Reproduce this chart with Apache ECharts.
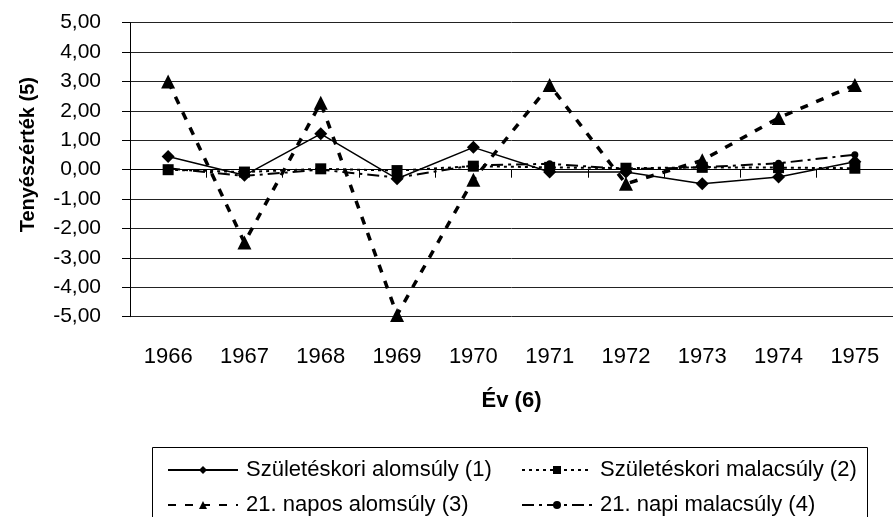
<!DOCTYPE html>
<html>
<head>
<meta charset="utf-8">
<script src="https://cdn.jsdelivr.net/npm/echarts@6/dist/echarts.min.js"></script>
<style>
html,body{margin:0;padding:0;background:#fff;}
#chart{width:893px;height:517px;}
</style>
</head>
<body>
<div id="chart"></div>
<script>
// evek es tenyeszertekek
var years = ['1966', '1967', '1968', '1969', '1970', '1971', '1972', '1973', '1974', '1975'];
var szulAlom = [0.45, -0.19, 1.22, -0.31, 0.76, -0.08, -0.08, -0.48, -0.25, 0.27];
var szulMalac = [0.0, -0.08, 0.03, -0.03, 0.12, 0.08, 0.05, 0.08, 0.07, 0.05];
var napos21Alom = [3.0, -2.48, 2.28, -4.94, -0.34, 2.88, -0.48, 0.32, 1.76, 2.88];
var napi21Malac = [0.05, -0.21, 0.0, -0.27, 0.15, 0.2, 0.02, 0.08, 0.22, 0.51];

var names = ['Születéskori alomsúly (1)', 'Születéskori malacsúly (2)', '21. napos alomsúly (3)', '21. napi malacsúly (4)'];

var font = 'Liberation Sans, Arial, sans-serif';

var chart = echarts.init(document.getElementById('chart'));

var legendText = {fontFamily: font, fontSize: 22, color: '#000', padding: [0, 0, 0, 3]};

var option = {
    backgroundColor: '#fff',
    animation: false,
    textStyle: {fontFamily: font, color: '#000'},
    grid: {left: 130, top: 22.7, right: -10.3, bottom: 200.3, containLabel: false},
    legend: [
        {
            orient: 'vertical',
            left: 167,
            top: 459,
            height: 100,
            padding: 0,
            itemWidth: 70,
            itemHeight: 10,
            itemGap: 13,
            data: [names[0], names[2]],
            textStyle: legendText
        },
        {
            orient: 'vertical',
            left: 521,
            top: 459,
            height: 100,
            padding: 0,
            itemWidth: 70,
            itemHeight: 10,
            itemGap: 13,
            data: [names[1], names[3]],
            textStyle: legendText
        }
    ],
    graphic: [
        {
            type: 'rect',
            shape: {x: 152.5, y: 447.5, width: 715, height: 90},
            style: {fill: 'none', stroke: '#000', lineWidth: 1},
            silent: true
        }
    ],
    xAxis: {
        type: 'category',
        data: years,
        boundaryGap: true,
        name: 'Év (6)',
        nameLocation: 'middle',
        nameGap: 73,
        nameTextStyle: {fontFamily: font, fontSize: 22, fontWeight: 'bold', color: '#000'},
        axisLine: {lineStyle: {color: '#000', width: 1}},
        axisTick: {show: true, length: 8, interval: 0, lineStyle: {color: '#000'}},
        axisLabel: {fontFamily: font, fontSize: 22, color: '#000', margin: 29, interval: 0},
        splitLine: {show: false}
    },
    yAxis: {
        type: 'value',
        min: -5,
        max: 5,
        interval: 1,
        name: 'Tenyészérték (5)',
        nameLocation: 'middle',
        nameGap: 92,
        nameTextStyle: {fontFamily: font, fontSize: 20, fontWeight: 'bold', color: '#000', padding: [0, 0, 0, 30]},
        axisLine: {show: true, lineStyle: {color: '#000', width: 1}},
        axisTick: {show: true, length: 8, lineStyle: {color: '#000'}},
        axisLabel: {
            fontFamily: font, fontSize: 21, color: '#000', margin: 29,
            formatter: function (v) { return v.toFixed(2).replace('.', ','); }
        },
        splitLine: {show: true, lineStyle: {color: '#222', width: 1}}
    },
    series: [
        {
            name: names[0],
            type: 'line',
            data: szulAlom,
            symbol: 'diamond',
            symbolSize: 13,
            color: '#000',
            lineStyle: {color: '#000', width: 1.5, type: 'solid'},
            itemStyle: {color: '#000'},
            z: 4
        },
        {
            name: names[1],
            type: 'line',
            data: szulMalac,
            symbol: 'rect',
            symbolSize: 11,
            color: '#000',
            lineStyle: {color: '#000', width: 2, type: [3, 4]},
            itemStyle: {color: '#000'},
            z: 3
        },
        {
            name: names[2],
            type: 'line',
            data: napos21Alom,
            symbol: 'triangle',
            symbolSize: 14,
            color: '#000',
            lineStyle: {color: '#000', width: 3.5, type: [8, 9]},
            itemStyle: {color: '#000'},
            z: 2
        },
        {
            name: names[3],
            type: 'line',
            data: napi21Malac,
            symbol: 'circle',
            symbolSize: 7,
            color: '#000',
            lineStyle: {color: '#000', width: 2, type: [12, 5, 3, 5]},
            itemStyle: {color: '#000'},
            z: 3
        }
    ]
};

chart.setOption(option);
</script>
</body>
</html>
